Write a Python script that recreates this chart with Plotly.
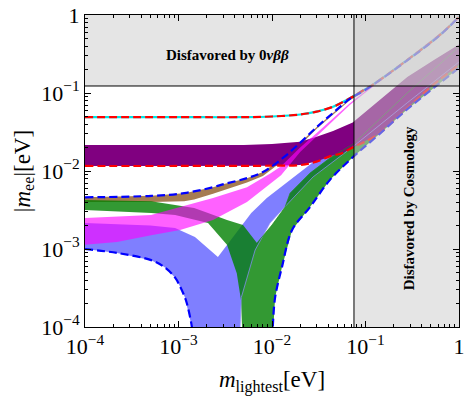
import plotly.graph_objects as go

# ---------------- data (eV) ----------------
# inverted-ordering envelope
io_up_x = [1e-4, 1e-3, 5e-3, 1e-2, 2e-2, 3e-2, 4.5e-2, 6.8e-2, 9.4e-2, 0.12, 0.28, 0.63, 1.0]
io_up_y = [0.049, 0.049, 0.049, 0.050, 0.053, 0.0576, 0.0667, 0.0855, 0.108, 0.128, 0.265, 0.56, 0.95]
io_lo_x = [1e-4, 1e-3, 1e-2, 2e-2, 3e-2, 4.2e-2, 5.5e-2, 7.3e-2, 0.133, 0.3, 0.53, 1.0]
io_lo_y = [0.0116, 0.0116, 0.0117, 0.0119, 0.0132, 0.0155, 0.0168, 0.020, 0.029, 0.069, 0.127, 0.23]

# purple band (upper edge; lower edge = io_lo)
pur_up_x = [1e-4, 1e-3, 5e-3, 1e-2, 2e-2, 3e-2, 4.5e-2, 7.3e-2, 0.15, 0.28, 0.55, 1.0]
pur_up_y = [0.0215, 0.0215, 0.0216, 0.0222, 0.0238, 0.0275, 0.0325, 0.042, 0.0865, 0.16, 0.268, 0.42]

# normal-ordering envelope
no_up_x = [1e-4, 5.1e-4, 1.15e-3, 2.34e-3, 3.07e-3, 5.4e-3, 8e-3, 1.31e-2, 2e-2, 3.03e-2, 4.49e-2, 6.8e-2, 0.1, 0.28, 0.63, 1.0]
no_up_y = [0.0046, 0.0048, 0.0052, 0.0062, 0.0068, 0.0081, 0.0097, 0.0147, 0.023, 0.0368, 0.0554, 0.084, 0.11, 0.262, 0.555, 0.945]
no_lo1_x = [1e-4, 2.2e-4, 5.1e-4, 7e-4, 9.2e-4, 1.04e-3, 1.17e-3, 1.23e-3, 1.39e-3, 1.45e-3]
no_lo1_y = [0.001, 0.00089, 0.00072, 0.00059, 0.00043, 0.00033, 0.00024, 0.0002, 1e-4, 5e-5]
no_lo2_x = [1.0e-2, 1.02e-2, 1.08e-2, 1.28e-2, 1.64e-2, 2.55e-2, 4.17e-2, 7.35e-2, 0.133, 0.28, 0.53, 1.0]
no_lo2_y = [5e-5, 1e-4, 0.00024, 0.00059, 0.00175, 0.00345, 0.0077, 0.0151, 0.028, 0.062, 0.115, 0.21]

# green band
g_up_x = [1e-4, 5.1e-4, 9.2e-4, 1.47e-3, 2.07e-3, 3.3e-3, 4.9e-3, 6.9e-3, 1.0e-2, 1.38e-2, 1.56e-2, 2.55e-2, 4.17e-2, 7.35e-2, 0.28, 1.0]
g_up_y = [0.00425, 0.0041, 0.00367, 0.00336, 0.0029, 0.00235, 0.00203, 0.00119, 0.00203, 0.00345, 0.0052, 0.0094, 0.0147, 0.022, 0.1, 0.39]
g_lo_x = [1e-4, 5.1e-4, 9.2e-4, 2.07e-3, 3.3e-3, 4.2e-3, 4.66e-3, 4.78e-3, 4.85e-3]
g_lo_y = [0.00316, 0.0029, 0.00273, 0.00215, 0.00113, 0.00049, 0.00022, 1e-4, 1e-6]

# blue band
b_up_x = [1e-4, 5e-4, 9.2e-4, 1.5e-3, 2.64e-3, 4.78e-3, 6e-3, 8.8e-3, 1.31e-2, 2e-2, 2.75e-2, 7.3e-2, 0.28, 1.0]
b_up_y = [0.00215, 0.002, 0.00186, 0.00143, 0.00079, 0.00203, 0.0029, 0.0045, 0.0065, 0.0097, 0.013, 0.032, 0.13, 0.40]
b_lo2_x = [4.5e-3, 4.55e-3, 4.7e-3, 6.6e-3, 9.5e-3, 1.38e-2, 2.75e-2, 7.3e-2, 0.28, 1.0]
b_lo2_y = [1e-6, 1e-4, 0.00024, 0.00097, 0.00215, 0.0035, 0.0084, 0.0204, 0.075, 0.25]

# magenta band
m_up_x = [1e-4, 5.1e-4, 1.04e-3, 2.34e-3, 5.4e-3, 9.5e-3, 1.25e-2, 2e-2, 3.03e-2, 4.49e-2, 6.8e-2, 9.4e-2, 0.2, 0.5, 1.0]
m_up_y = [0.0025, 0.00273, 0.00345, 0.0045, 0.0062, 0.0092, 0.0115, 0.020, 0.031, 0.047, 0.074, 0.1, 0.2, 0.47, 0.92]
m_lo_x = [1e-4, 2.2e-4, 5.1e-4, 1.04e-3, 2.34e-3, 5.4e-3, 9.5e-3, 1.25e-2, 2e-2, 3.03e-2, 4.49e-2, 6.8e-2, 9.4e-2, 0.2, 0.5, 1.0]
m_lo_y = [0.00113, 0.00123, 0.0015, 0.00175, 0.00235, 0.004, 0.0068, 0.0088, 0.0175, 0.028, 0.044, 0.07, 0.096, 0.195, 0.45, 0.88]

# brown band (upper edge = no_up up to 0.1 eV)
br_lo_x = [1e-4, 5.1e-4, 1.15e-3, 1.47e-3, 2.34e-3, 5.4e-3, 8e-3, 1.31e-2, 2e-2, 3.03e-2, 6.8e-2, 0.1]
br_lo_y = [0.0040, 0.0040, 0.0041, 0.0043, 0.0051, 0.0071, 0.0086, 0.0135, 0.0215, 0.035, 0.081, 0.107]

# exclusion limits
bb0v_limit = 0.123      # |m_ee| bound
cosmo_limit = 0.0753    # m_lightest bound
x_min, x_max = 1e-4, 1.0
y_min, y_max = 1e-4, 1.0

tick_vals = [1e-4, 1e-3, 1e-2, 1e-1, 1]
tick_text = ["10<sup>\u22124</sup>", "10<sup>\u22123</sup>", "10<sup>\u22122</sup>", "10<sup>\u22121</sup>", "1"]

# ---------------- figure ----------------
fig = go.Figure()


def band(xu, yu, xl, yl, color):
    xs = list(xu) + list(xl)[::-1]
    ys = list(yu) + list(yl)[::-1]
    fig.add_trace(go.Scatter(x=xs, y=ys, fill="toself", fillcolor=color,
                             mode="lines", line=dict(width=0), hoverinfo="skip",
                             showlegend=False))


def edge(xs, ys, color, width=0.8):
    fig.add_trace(go.Scatter(x=xs, y=ys, mode="lines", line=dict(color=color, width=width),
                             hoverinfo="skip", showlegend=False))


# blue band: lower edge = left NO-lower branch, zero gap, right branch
band(b_up_x, b_up_y, no_lo1_x + [1.5e-3] + b_lo2_x, no_lo1_y + [1e-6] + b_lo2_y,
     "rgba(0,0,255,0.5)")
# brown band
nb = no_up_x.index(0.1) + 1
band(no_up_x[:nb], no_up_y[:nb], br_lo_x, br_lo_y, "rgba(166,124,82,1)")
# green band
band(g_up_x, g_up_y, g_lo_x + no_lo2_x, g_lo_y + no_lo2_y, "rgba(0,128,0,0.8)")
# purple band
band(pur_up_x, pur_up_y, io_lo_x, io_lo_y, "rgba(128,0,128,1)")
# magenta band
band(m_up_x, m_up_y, m_lo_x, m_lo_y, "rgba(255,0,255,0.62)")
# thin band boundaries that show through
edge(b_lo2_x[1:], b_lo2_y[1:], "rgba(140,140,255,0.9)")
ng = g_up_x.index(6.9e-3)
edge(g_up_x[ng:], g_up_y[ng:], "rgba(30,140,30,0.9)")

dash = "8px,4px"
# IO envelope
fig.add_trace(go.Scatter(x=io_up_x, y=io_up_y, mode="lines",
                         line=dict(color="#00e5e5", width=2.2, shape="spline"), showlegend=False))
fig.add_trace(go.Scatter(x=io_up_x, y=io_up_y, mode="lines",
                         line=dict(color="red", width=2.2, dash=dash, shape="spline"), showlegend=False))
fig.add_trace(go.Scatter(x=io_lo_x, y=io_lo_y, mode="lines",
                         line=dict(color="red", width=2.2, dash=dash, shape="spline"), showlegend=False))
# NO envelope
for xs, ys in [(no_up_x, no_up_y), (no_lo1_x, no_lo1_y), (no_lo2_x, no_lo2_y)]:
    fig.add_trace(go.Scatter(x=xs, y=ys, mode="lines",
                             line=dict(color="blue", width=2.2, dash=dash, shape="spline"),
                             showlegend=False))

# disfavoured regions (drawn on top, semi-transparent)
gray = "rgba(203,203,203,0.5)"
fig.add_trace(go.Scatter(x=[x_min, x_max, x_max, x_min, x_min],
                         y=[bb0v_limit, bb0v_limit, y_max, y_max, bb0v_limit],
                         fill="toself", fillcolor=gray, mode="lines", line=dict(width=0),
                         showlegend=False, hoverinfo="skip"))
fig.add_trace(go.Scatter(x=[cosmo_limit, x_max, x_max, cosmo_limit, cosmo_limit],
                         y=[y_min, y_min, y_max, y_max, y_min],
                         fill="toself", fillcolor=gray, mode="lines", line=dict(width=0),
                         showlegend=False, hoverinfo="skip"))
fig.add_trace(go.Scatter(x=[x_min, x_max], y=[bb0v_limit, bb0v_limit], mode="lines",
                         line=dict(color="black", width=1), showlegend=False))
fig.add_trace(go.Scatter(x=[cosmo_limit, cosmo_limit], y=[y_min, y_max], mode="lines",
                         line=dict(color="black", width=1), showlegend=False))

serif = "Liberation Serif, Times New Roman, serif"
fig.add_annotation(xref="paper", yref="paper", x=0.38, y=0.905,
                   text="<b>Disfavored by 0<i>\u03bd\u03b2\u03b2</i></b>", showarrow=False,
                   font=dict(family=serif, size=15, color="black"))
fig.add_annotation(xref="paper", yref="paper", x=0.892, y=0.379,
                   text="<b>Disfavored by Cosmology</b>", showarrow=False, textangle=-90,
                   font=dict(family=serif, size=15, color="black"))

axis_common = dict(
    type="log", showgrid=False, zeroline=False, automargin=False,
    ticks="inside", ticklen=6, tickwidth=1, tickcolor="black",
    showline=True, linecolor="black", linewidth=1, mirror="allticks",
    tickmode="array", tickvals=tick_vals, ticktext=tick_text,
    tickfont=dict(family=serif, size=22, color="black"),
    minor=dict(ticks="inside", ticklen=3, tickwidth=1, tickcolor="black", dtick="D1", showgrid=False),
)
fig.update_xaxes(range=[-4, 0], title=dict(text="<i>m</i><sub>lightest</sub>[eV]",
                 font=dict(family=serif, size=23, color="black"), standoff=12), **axis_common)
fig.update_yaxes(range=[-4, 0], title=dict(text="|<i>m</i><sub>ee</sub>|[eV]",
                 font=dict(family=serif, size=23, color="black"), standoff=4), **axis_common)

fig.update_layout(width=465, height=398, margin=dict(l=85, r=6, t=15, b=71),
                  plot_bgcolor="white", paper_bgcolor="white", showlegend=False)

fig.write_html("out.html", config={"displayModeBar": False},
               post_script="document.body.style.margin='0';")
